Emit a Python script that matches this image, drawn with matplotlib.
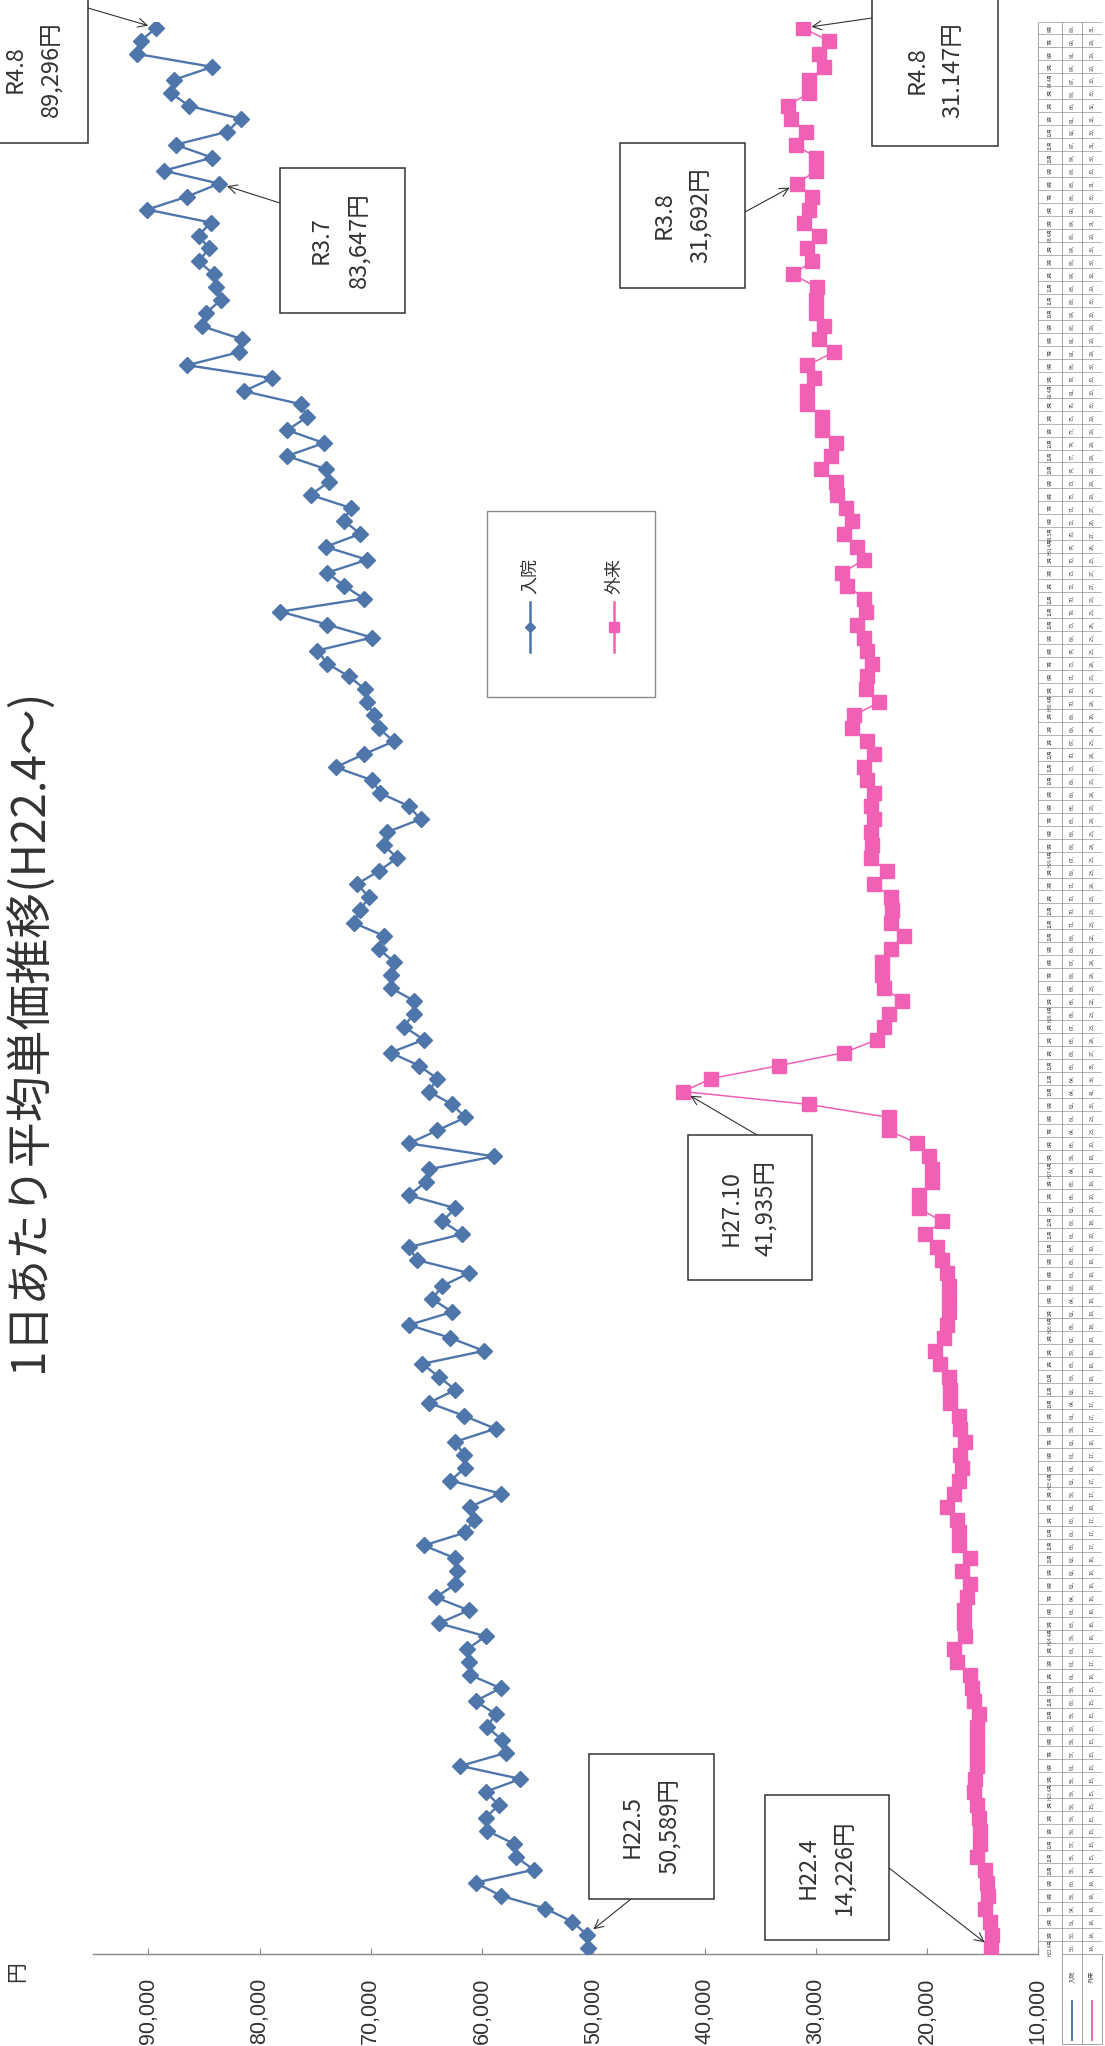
import matplotlib
matplotlib.use("Agg")
import matplotlib.pyplot as plt
from matplotlib.patches import Rectangle

plt.rcParams['font.family'] = ['Noto Sans CJK JP', 'DejaVu Sans']

TITLE = "1日あたり平均単価推移(H22.4～)"
SERIES_NAMES = ["入院", "外来"]
UNIT = "円"

# monthly values, H22.4 (index 0) .. R4.8 (index 148), yen
INPATIENT = [
    50450, 50589, 51900, 54300, 58340, 60590, 55350, 56990, 57140, 59540,
    59690, 58490, 59690, 56550, 61940, 57890, 58190, 59540, 58790, 60590,
    58340, 61040, 61190, 61340, 59690, 63880, 61190, 64180, 62390, 62240,
    62390, 65230, 61490, 60740, 61040, 58340, 62840, 61490, 61640, 62390,
    58790, 61640, 64780, 62390, 63880, 65380, 59840, 62840, 66580, 62690,
    64480, 63580, 61190, 65830, 66580, 61790, 63580, 62390, 66580, 65080,
    64780, 58940, 66580, 64030, 61490, 62690, 64780, 64030, 65680, 68230,
    65230, 67030, 66130, 66130, 68230, 68230, 67930, 69280, 68830, 71520,
    70930, 70180, 71230, 69280, 67630, 68830, 68530, 65530, 66580, 69130,
    69880, 73170, 70630, 67930, 69280, 69730, 70330, 70480, 71970, 73920,
    74820, 69880, 73920, 78120, 70630, 72420, 73920, 70330, 74070, 70930,
    72420, 71820, 75420, 73770, 74070, 77520, 74220, 77520, 75720, 76320,
    81410, 78870, 86510, 81860, 81560, 85160, 84860, 83510, 83960, 84110,
    85460, 84560, 85460, 84410, 90100, 86510, 83647, 88600, 84260, 87550,
    82910, 81710, 86360, 88000, 87700, 84260, 91000, 90700, 89296,
]
OUTPATIENT = [
    14226, 14180, 14330, 14780, 14480, 14630, 14780, 15520, 15220, 15220,
    15370, 15520, 15820, 15670, 15520, 15520, 15520, 15520, 15370, 15820,
    15970, 16120, 17310, 17610, 16570, 16720, 16720, 16420, 16120, 16870,
    16120, 17160, 17160, 17310, 18210, 17610, 17160, 16870, 17010, 16570,
    17010, 17160, 17910, 17910, 18060, 18810, 19250, 18510, 18210, 18060,
    18060, 18060, 18210, 18660, 19100, 20150, 18660, 20750, 20750, 19550,
    19550, 19850, 20900, 23430, 23430, 30600, 41935, 39400, 33280, 27460,
    24480, 23880, 23430, 22240, 23880, 24030, 24030, 23280, 22090, 23280,
    23130, 23280, 24780, 23580, 25070, 24930, 25070, 24780, 25070, 24780,
    25370, 25670, 24780, 25370, 26720, 26570, 24330, 25520, 25370, 24930,
    25370, 25670, 26270, 25520, 25670, 27160, 27610, 25670, 26270, 27460,
    26720, 27310, 28060, 28210, 29550, 28660, 28210, 29400, 29400, 30750,
    30750, 30150, 30750, 28360, 29700, 29250, 30000, 30000, 29850, 32090,
    30300, 30750, 29700, 31040, 30600, 30300, 31692, 30000, 30000, 31790,
    30900, 32240, 32540, 30600, 30600, 29250, 29700, 28810, 31147,
]
VALUE_TICKS = [90000, 80000, 70000, 60000, 50000, 40000, 30000, 20000, 10000]

# callouts: (series, index, line1, line2)
CALLOUTS = [
    ("in", 148, "R4.8", "89,296円"),
    ("in", 136, "R3.7", "83,647円"),
    ("out", 136, "R3.8", "31,692円"),
    ("out", 148, "R4.8", "31.147円"),
    ("out", 66, "H27.10", "41,935円"),
    ("out", 0, "H22.4", "14,226円"),
    ("in", 1, "H22.5", "50,589円"),
]

# month labels for the data table
MONTH_LABELS = []
for n in range(len(INPATIENT)):
    yr = 2010 + (3 + n) // 12
    mo = (3 + n) % 12 + 1
    if (yr, mo) >= (2019, 5):
        era = "R%d" % (yr - 2018)
    else:
        era = "H%d" % (yr - 1988)
    if mo == 4 or (yr, mo) == (2019, 5):
        MONTH_LABELS.append("%s.%d月" % (era, mo))
    else:
        MONTH_LABELS.append("%d月" % mo)

W, H = 1105, 2046
BLUE = "#4f76ab"
PINK = "#f061b6"

fig = plt.figure(figsize=(W / 100, H / 100), dpi=100)

# plot area in pixels
px_left, px_right = 92.7, 1038.3
px_top, px_bot = 21.5, 1954.0
ax = fig.add_axes([px_left / W, 1 - px_bot / H, (px_right - px_left) / W, (px_bot - px_top) / H])
idx = list(range(len(INPATIENT)))
ax.plot(INPATIENT, idx, color=BLUE, lw=1.7, marker="D", ms=8, mec=BLUE, mfc=BLUE, zorder=3)
ax.plot(OUTPATIENT, idx, color=PINK, lw=1.1, marker="s", ms=9.5, mec=PINK, mfc=PINK, zorder=3)
ax.set_xlim(95000, 10000)
ax.set_ylim(-0.5, len(INPATIENT) - 0.5)
ax.set_xticks(VALUE_TICKS)
ax.set_xticklabels(["{:,}".format(v) for v in VALUE_TICKS], rotation=90,
                   fontsize=15.5, family=["Liberation Sans", "DejaVu Sans"], color="#333333")
ax.tick_params(axis="x", direction="in", length=4, width=0.8, color="#888888", pad=17)
ax.set_yticks([])
for s in ("top", "left", "right"):
    ax.spines[s].set_visible(False)
ax.spines["bottom"].set_color("#888888")
ax.spines["bottom"].set_linewidth(1.0)
ax.patch.set_visible(False)

# data table (to the right of the plot)
cols = [1038, 1062, 1082, 1102]
tax = fig.add_axes([cols[0] / W, 1 - px_bot / H, (cols[-1] - cols[0]) / W, (px_bot - px_top) / H])
tax.set_xlim(cols[0], cols[-1])
tax.set_ylim(-0.5, len(INPATIENT) - 0.5)
tax.axis("off")
n = len(INPATIENT)
tax.hlines([i + 0.5 for i in range(-1, n)], cols[0], cols[-1], color="#8a8a8a", lw=0.45)
tax.vlines(cols, -0.5, n - 0.5, color="#8a8a8a", lw=0.55)
for i in range(n):
    tax.text((cols[0] + cols[1]) / 2, i, MONTH_LABELS[i], rotation=90, fontsize=3.3,
             ha="center", va="center", color="#404040")
    tax.text((cols[1] + cols[2]) / 2, i, "%d," % (INPATIENT[i] // 1000), rotation=90,
             fontsize=3.8, ha="center", va="center", color="#404040")
    tax.text((cols[2] + cols[3]) / 2, i, "%d," % (OUTPATIENT[i] // 1000), rotation=90,
             fontsize=3.8, ha="center", va="center", color="#404040")

# overlay in pixel coordinates
ov = fig.add_axes([0, 0, 1, 1])
ov.set_xlim(0, W)
ov.set_ylim(H, 0)
ov.axis("off")

# legend keys under the table
ov.add_patch(Rectangle((cols[1], px_bot), cols[3] - cols[1], 90, fill=False, ec="#8a8a8a", lw=0.55))
ov.plot([cols[2], cols[2]], [px_bot, px_bot + 90], color="#8a8a8a", lw=0.55)
for c, name, col in ((0, SERIES_NAMES[0], BLUE), (1, SERIES_NAMES[1], PINK)):
    xc = (cols[1 + c] + cols[2 + c]) / 2
    ov.text(xc, 1977, name, rotation=90, fontsize=4.5, ha="center", va="center", color="#404040")
    ov.plot([xc, xc], [2001, 2040], color=col, lw=1.4)

# title and unit
ov.text(30, 1030, TITLE, rotation=90, fontsize=33, ha="center", va="center", color="#333333")
ov.text(17, 1972, UNIT, rotation=90, fontsize=15, ha="center", va="center", color="#333333")

# legend
ov.add_patch(Rectangle((487, 511), 168, 186, fc="white", ec="#8a8a8a", lw=1.0))
for xc, name, col, mk, ms in ((530, SERIES_NAMES[0], BLUE, "D", 5.5), (614, SERIES_NAMES[1], PINK, "s", 7)):
    ov.text(xc, 576, name, rotation=90, fontsize=13, ha="center", va="center", color="#333333")
    ov.plot([xc, xc], [602, 652], color=col, lw=1.8)
    ov.plot([xc], [627], marker=mk, ms=ms, color=col)

# callout boxes: (x0, x1, y0, y1, text x1, text x2, arrow start)
boxes = [
    (-30, 88, -5, 143, 15, 51, (88, 8)),
    (280, 405, 168, 313, 321, 359, (280, 203)),
    (620, 745, 143, 288, 664, 700, (745, 212)),
    (872, 998, -5, 146, 917, 953, (872, 18)),
    (688, 812, 1135, 1280, 731, 766, (757, 1135)),
    (765, 889, 1795, 1940, 808, 844, (889, 1868)),
    (589, 714, 1754, 1899, 632, 669, (631, 1899)),
]
for (ser, i, l1, l2), (x0, x1, y0, y1, tx1, tx2, start) in zip(CALLOUTS, boxes):
    ov.add_patch(Rectangle((x0, y0), x1 - x0, y1 - y0, fc="white", ec="#333333", lw=1.1, zorder=4))
    yc = (y0 + y1) / 2
    ov.text(tx1, yc, l1, rotation=90, fontsize=17, ha="center", va="center", color="#333333", zorder=5)
    ov.text(tx2, yc, l2, rotation=90, fontsize=17, ha="center", va="center", color="#333333", zorder=5)
    val = INPATIENT[i] if ser == "in" else OUTPATIENT[i]
    ax.annotate("", xy=(val, i), xycoords="data", xytext=start, textcoords=ov.transData,
                arrowprops=dict(arrowstyle="->", color="#333333", lw=0.8, shrinkA=0, shrinkB=6,
                                mutation_scale=16), annotation_clip=False, zorder=6)

fig.savefig("out.png", dpi=100, facecolor="white")
